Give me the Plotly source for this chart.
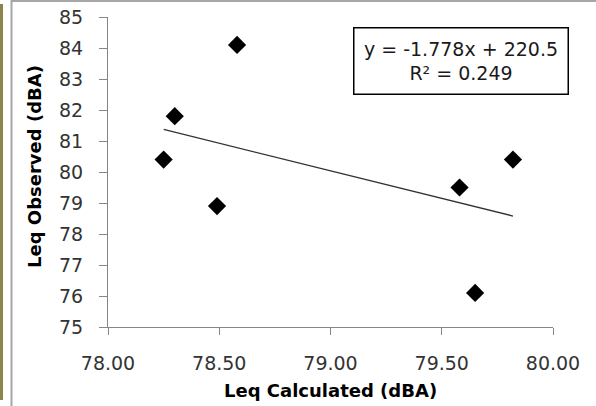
import plotly.graph_objects as go

# Data
leq_calculated = [78.25, 78.30, 78.49, 78.58, 79.58, 79.65, 79.82]
leq_observed = [80.4, 81.8, 78.9, 84.1, 79.5, 76.1, 80.4]

# Linear trendline as reported on the chart
trend_slope = -1.778
trend_intercept = 220.5
trend_label = "y = -1.778x + 220.5<br>R² = 0.249"

x_title = "Leq Calculated (dBA)"
y_title = "Leq Observed (dBA)"

trend_x = [min(leq_calculated), max(leq_calculated)]
trend_y = [trend_slope * v + trend_intercept for v in trend_x]

fig = go.Figure()
fig.add_trace(go.Scatter(
    x=trend_x, y=trend_y, mode="lines",
    line=dict(color="#333333", width=1.3),
    hoverinfo="skip", showlegend=False,
))
fig.add_trace(go.Scatter(
    x=leq_calculated, y=leq_observed, mode="markers",
    marker=dict(symbol="diamond", size=14, color="black"),
    showlegend=False,
))

W, H = 596, 406
L, R, T, B = 108, 43, 17, 79
pw, ph = W - L - R, H - T - B

def px_x(p):
    return (p - L) / pw

def px_y(p):
    return (H - B - p) / ph

axis_common = dict(
    showline=True, linecolor="#868686", linewidth=1,
    ticks="outside", tickcolor="#868686", tickwidth=1,
    showgrid=False, zeroline=False, automargin=False,
    tickfont=dict(family="DejaVu Sans", size=19, color="#333333"),
    ticklabelstandoff=12,
)

fig.update_layout(
    width=W, height=H,
    margin=dict(l=L, r=R, t=T, b=B),
    paper_bgcolor="white", plot_bgcolor="white",
    xaxis=dict(range=[78, 80], dtick=0.5, tick0=78, tickformat=".2f",
               ticklen=7, **axis_common),
    yaxis=dict(range=[75, 85], dtick=1, tick0=75, ticklen=8, **axis_common),
    annotations=[
        dict(text=trend_label, xref="paper", yref="paper",
             x=px_x(460.5), y=px_y(61), xanchor="center", yanchor="middle",
             showarrow=False, align="center",
             font=dict(family="DejaVu Sans", size=19, color="#1a1a1a"),
             bordercolor="black", borderwidth=1.5, borderpad=4,
             width=205, height=57, bgcolor="white"),
        dict(text="<b>" + x_title + "</b>", xref="paper", yref="paper",
             x=px_x(330), y=px_y(390), xanchor="center", yanchor="middle",
             showarrow=False,
             font=dict(family="DejaVu Sans", size=18, color="black")),
        dict(text="<b>" + y_title + "</b>", xref="paper", yref="paper",
             x=px_x(34), y=px_y(167), xanchor="center", yanchor="middle",
             showarrow=False, textangle=-90,
             font=dict(family="DejaVu Sans", size=18, color="black")),
    ],
    shapes=[
        dict(type="rect", xref="paper", yref="paper",
             x0=px_x(11.5), x1=px_x(610), y0=px_y(1), y1=px_y(420),
             line=dict(color="#a6a6a6", width=2), layer="below"),
        dict(type="line", xref="paper", yref="paper",
             x0=px_x(1.5), x1=px_x(1.5), y0=px_y(4), y1=px_y(400),
             line=dict(color="#8c8448", width=3)),
    ],
)

fig.write_html(
    "out.html",
    config={"displayModeBar": False},
    post_script="document.body.style.margin='0px';document.body.style.overflow='hidden';",
)
